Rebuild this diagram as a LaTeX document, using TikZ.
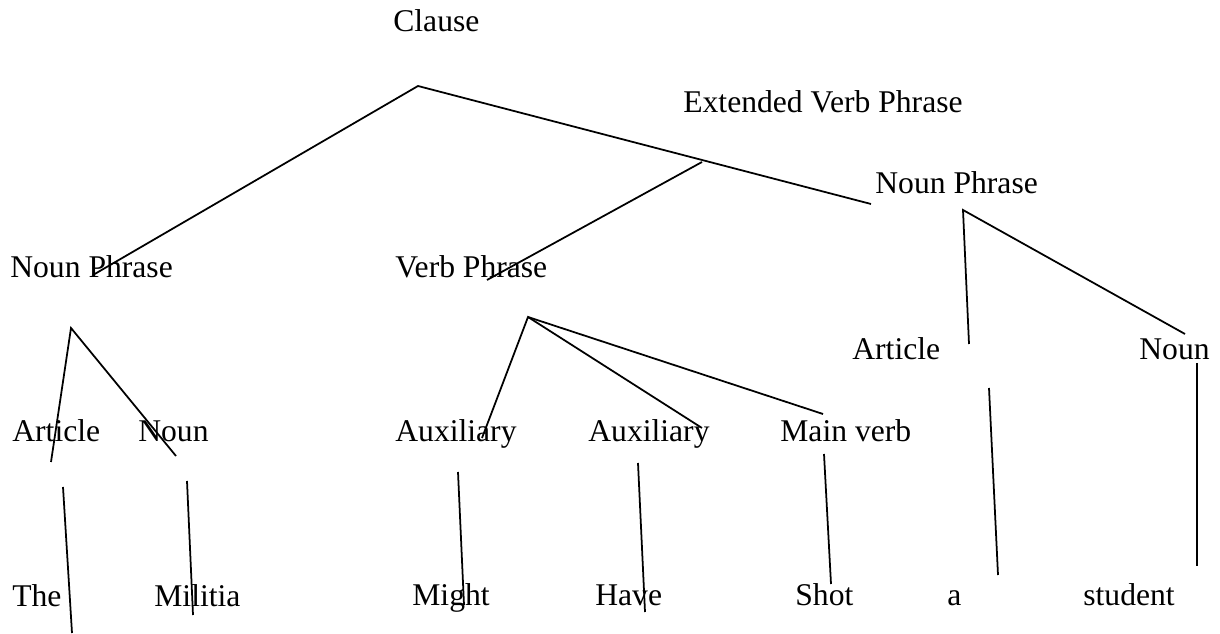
\documentclass[tikz,border=0pt]{standalone}
\usepackage{fontspec}
\setmainfont{Liberation Serif}
\usepackage{tikz}

\begin{document}
\begin{tikzpicture}[x=0.02cm, y=-0.02cm]
        \tikzstyle Tree Line=[line width=1pt, color=black]
        \tikzstyle Word Label=[anchor=base west, inner sep=0pt, font=\fontsize{18}{21}\selectfont]

        \useasboundingbox (0, 0) rectangle (1220, 634);

        % labels
        \node[Word Label] (clause) at (393, 32) {Clause};
        \node[Word Label] (evp) at (683, 113) {Extended Verb Phrase};
        \node[Word Label] (np2) at (875, 194) {Noun Phrase};
        \node[Word Label] (np1) at (10, 278) {Noun Phrase};
        \node[Word Label] (vp) at (395, 278) {Verb Phrase};
        \node[Word Label] (art2) at (852, 360) {Article};
        \node[Word Label] (noun2) at (1139, 360) {Noun};
        \node[Word Label] (art1) at (12, 442) {Article};
        \node[Word Label] (noun1) at (138, 442) {Noun};
        \node[Word Label] (aux1) at (395, 442) {Auxiliary};
        \node[Word Label] (aux2) at (588, 442) {Auxiliary};
        \node[Word Label] (mainverb) at (780, 442) {Main verb};
        \node[Word Label] (the) at (12, 606) {The};
        \node[Word Label] (militia) at (154, 606) {Militia};
        \node[Word Label] (might) at (412, 605) {Might};
        \node[Word Label] (have) at (595, 605) {Have};
        \node[Word Label] (shot) at (795, 605) {Shot};
        \node[Word Label] (a) at (947, 605) {a};
        \node[Word Label] (student) at (1083, 605) {student};

        % branch points and line ends
        \coordinate (clause top) at (418, 86);
        \coordinate (evp top) at (702, 162);
        \coordinate (np2 end) at (871, 204);
        \coordinate (np1 end) at (93, 275);
        \coordinate (vp end) at (487, 280);
        \coordinate (np2 top) at (963, 210);
        \coordinate (art2 end) at (969, 344);
        \coordinate (noun2 end) at (1185, 334);
        \coordinate (np1 top) at (71, 328);
        \coordinate (art1 end) at (51, 462);
        \coordinate (noun1 end) at (176, 456);
        \coordinate (vp top) at (528, 317);
        \coordinate (aux1 end) at (482, 438);
        \coordinate (aux2 end) at (702, 428);
        \coordinate (mainverb end) at (823, 414);

        \coordinate (the top) at (63, 487);
        \coordinate (the end) at (72, 633);
        \coordinate (militia top) at (187, 481);
        \coordinate (militia end) at (193, 615);
        \coordinate (might top) at (458, 472);
        \coordinate (might end) at (464, 605);
        \coordinate (have top) at (638, 463);
        \coordinate (have end) at (645, 612);
        \coordinate (shot top) at (824, 454);
        \coordinate (shot end) at (831, 584);
        \coordinate (a top) at (989, 388);
        \coordinate (a end) at (998, 575);
        \coordinate (student top) at (1197, 363);
        \coordinate (student end) at (1197, 566);

        % tree
        \draw[Tree Line] (np1 end) -- (clause top) -- (np2 end);
        \draw[Tree Line] (evp top) -- (vp end);
        \draw[Tree Line] (art2 end) -- (np2 top) -- (noun2 end);
        \draw[Tree Line] (art1 end) -- (np1 top) -- (noun1 end);
        \draw[Tree Line] (aux1 end) -- (vp top) -- (aux2 end);
        \draw[Tree Line] (vp top) -- (mainverb end);

        \draw[Tree Line] (the top) -- (the end);
        \draw[Tree Line] (militia top) -- (militia end);
        \draw[Tree Line] (might top) -- (might end);
        \draw[Tree Line] (have top) -- (have end);
        \draw[Tree Line] (shot top) -- (shot end);
        \draw[Tree Line] (a top) -- (a end);
        \draw[Tree Line] (student top) -- (student end);
    \end{tikzpicture}
\end{document}
